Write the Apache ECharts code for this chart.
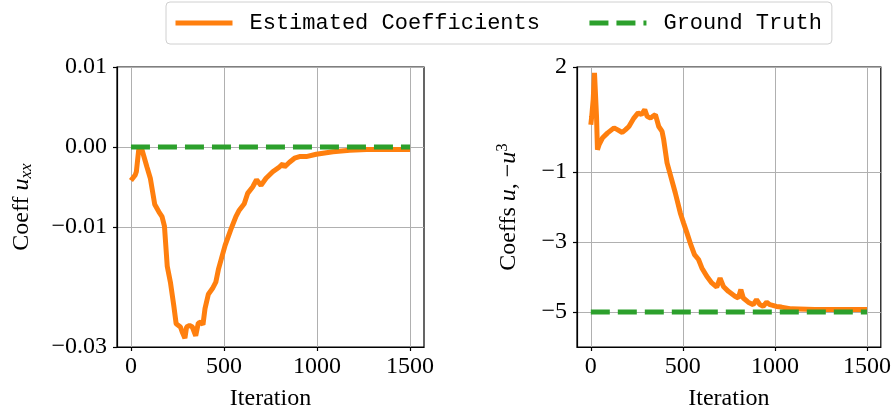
<!DOCTYPE html>
<html><head><meta charset="utf-8">
<script src="https://cdn.jsdelivr.net/npm/echarts@6/dist/echarts.min.js"></script>
<style>html,body{margin:0;padding:0;background:#fff}#c{width:894px;height:418px}</style>
</head><body><div id="c"></div>
<script>
// ---- data ----
const leftIter = [0,23,29,41,45,60,86,104,128,150,167,180,195,212,230,243,266,275,290,299,315,330,348,362,375,387,398,416,438,456,470,488,506,537,564,582,609,627,654,675,699,726,762,798,816,825,852,879,906,942,951,996,1086,1176,1266,1500];
const leftCoef = [-0.0042,-0.0035,-0.0031,-0.0005,0.0000,-0.0004,-0.0025,-0.0039,-0.0072,-0.0081,-0.0087,-0.0099,-0.0149,-0.0169,-0.0198,-0.0221,-0.0225,-0.0231,-0.0239,-0.0225,-0.0223,-0.0225,-0.0236,-0.0220,-0.0219,-0.0222,-0.0202,-0.0184,-0.0177,-0.0169,-0.0153,-0.0138,-0.0123,-0.0103,-0.0087,-0.0079,-0.0071,-0.0058,-0.0050,-0.0041,-0.0048,-0.0039,-0.0031,-0.0025,-0.0021,-0.0025,-0.0019,-0.0014,-0.0012,-0.0012,-0.0010,-0.0009,-0.0006,-0.0004,-0.0003,-0.0003];
const rightIter = [0,5,13,20,27,31,36,45,63,90,126,144,171,189,207,234,257,275,293,306,324,336,351,369,387,396,414,432,459,486,504,522,540,563,585,603,630,657,684,702,720,747,783,801,815,828,855,882,900,918,936,955,973,1008,1035,1089,1216,1500];
const rightCoef = [0.35,0.59,1.07,1.83,1.81,0.59,-0.36,-0.22,-0.03,0.11,0.26,0.21,0.13,0.21,0.30,0.54,0.69,0.64,0.78,0.59,0.54,0.59,0.64,0.30,0.16,-0.08,-0.74,-1.08,-1.60,-2.17,-2.46,-2.74,-3.03,-3.36,-3.50,-3.74,-3.98,-4.17,-4.29,-4.03,-4.27,-4.41,-4.55,-4.60,-4.36,-4.60,-4.72,-4.79,-4.65,-4.79,-4.84,-4.72,-4.79,-4.84,-4.86,-4.91,-4.93,-4.93];
const truthIter = [0,1500];
const leftTruth = [0,0];
const rightTruth = [-5,-5];
const xTicks = [0,500,1000,1500];
const leftYTicks = [0.01,0,-0.01,-0.025];
const leftYLabels = ['0.01','0.00','\u22120.01','\u22120.03'];
const rightYTicks = [2,-1,-3,-5];
const rightYLabels = ['2','\u22121','\u22123','\u22125'];

const ORANGE = '#ff7f0e', GREEN = '#2ca02c';
const serif = 'Liberation Serif';
const tickFont = {fontFamily: serif, fontSize: 24, color: '#000'};

function pairs(xs, ys){ return xs.map((x,i)=>[x, ys[i]]); }

function xAxis(gi){
  return {
    type:'value', gridIndex:gi, min:-75, max:1575,
    name:'Iteration', nameLocation:'middle', nameGap:40,
    nameTextStyle:{fontFamily:serif, fontSize:24, color:'#000'},
    axisLine:{show:true, onZero:false, lineStyle:{color:'#000', width:1.2}},
    axisTick:{show:true, length:4, inside:false, customValues:xTicks, lineStyle:{color:'#000', width:1.2}},
    axisLabel:{...tickFont, margin:8, customValues:xTicks, formatter:v=>String(v)},
    splitLine:{show:true, lineStyle:{color:'#b0b0b0', width:1}}
  };
}
function yAxis(gi, min, max, ticks, labels, name, nameGap, rich){
  return {
    type:'value', gridIndex:gi, min:min, max:max,
    name:name, nameLocation:'middle', nameGap:nameGap, nameRotate:90,
    nameTextStyle:{fontFamily:serif, fontSize:24, color:'#000', rich:rich},
    axisLine:{show:true, onZero:false, lineStyle:{color:'#000', width:1.2}},
    axisTick:{show:true, length:4, inside:false, customValues:ticks, lineStyle:{color:'#000', width:1.2}},
    axisLabel:{...tickFont, margin:10, customValues:ticks,
      formatter:v=>{ let i = ticks.findIndex(t=>Math.abs(t-v)<1e-9); return i>=0?labels[i]:''; }},
    splitLine:{show:true, lineStyle:{color:'#b0b0b0', width:1}}
  };
}

const richL = {
  a:{fontFamily:serif, fontSize:24, color:'#000'},
  b:{fontFamily:serif, fontSize:24, fontStyle:'italic', color:'#000'},
  c:{fontFamily:serif, fontSize:17, fontStyle:'italic', color:'#000', padding:[10,0,0,0]}
};
const richR = {
  a:{fontFamily:serif, fontSize:24, color:'#000'},
  b:{fontFamily:serif, fontSize:24, fontStyle:'italic', color:'#000'},
  s:{fontFamily:serif, fontSize:17, color:'#000', padding:[0,0,12,0]}
};

const lineCommon = {type:'line', showSymbol:false, symbol:'none', smooth:false, z:3};
const DASH = [19,8];

const option = {
  animation:false,
  backgroundColor:'#fff',
  grid:[
    {left:117, top:67, width:307, height:280, show:true, borderColor:'#000', borderWidth:1.2, backgroundColor:'transparent'},
    {left:577, top:67, width:306, height:280, show:true, borderColor:'#000', borderWidth:1.2, backgroundColor:'transparent'}
  ],
  legend:{
    left:166, top:2,
    padding:[10,10,10,7], itemGap:47, itemWidth:57, itemHeight:20,
    borderColor:'#d0d0d0', borderWidth:1, borderRadius:4,
    itemStyle:{opacity:0},
    lineStyle:{width:5},
    textStyle:{fontFamily:'Liberation Mono', fontSize:22, color:'#000', padding:[0,0,0,12]},
    data:['Estimated Coefficients','Ground Truth']
  },
  xAxis:[xAxis(0), xAxis(1)],
  yAxis:[
    yAxis(0, -0.025, 0.01, leftYTicks, leftYLabels, '{a|Coeff }{b|u}{c|xx}', 82, richL),
    yAxis(1, -6, 2, rightYTicks, rightYLabels, '{a|Coeffs }{b|u}{a|, \u2212}{b|u}{s|3}', 54, richR)
  ],
  series:[
    {...lineCommon, name:'Estimated Coefficients', xAxisIndex:0, yAxisIndex:0, data:pairs(leftIter,leftCoef), lineStyle:{color:ORANGE, width:5}, itemStyle:{color:ORANGE}},
    {...lineCommon, name:'Ground Truth', xAxisIndex:0, yAxisIndex:0, data:pairs(truthIter,leftTruth), lineStyle:{color:GREEN, width:5, type:DASH}, itemStyle:{color:GREEN}, z:4},
    {...lineCommon, name:'Estimated Coefficients', xAxisIndex:1, yAxisIndex:1, data:pairs(rightIter,rightCoef), lineStyle:{color:ORANGE, width:5}, itemStyle:{color:ORANGE}},
    {...lineCommon, name:'Ground Truth', xAxisIndex:1, yAxisIndex:1, data:pairs(truthIter,rightTruth), lineStyle:{color:GREEN, width:5, type:DASH}, itemStyle:{color:GREEN}, z:4}
  ]
};
const chart = echarts.init(document.getElementById('c'), null, {renderer:'canvas'});
chart.setOption(option);
</script></body></html>
